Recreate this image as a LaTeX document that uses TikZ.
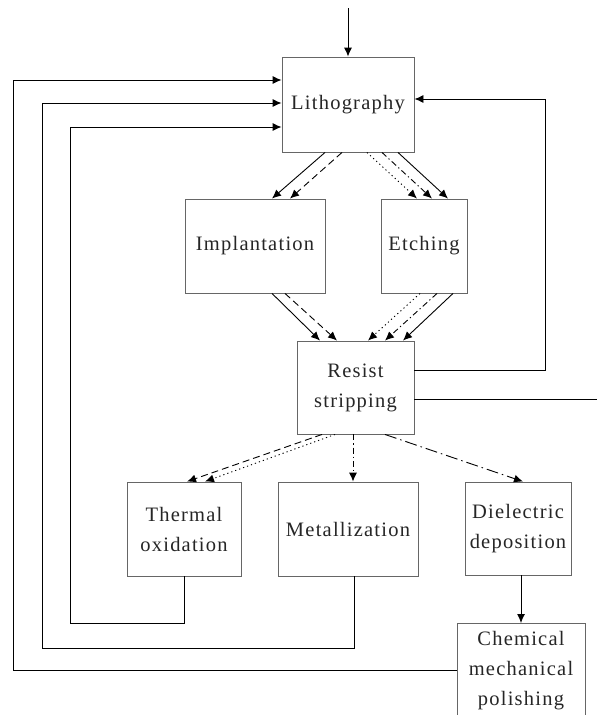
\documentclass[tikz,border=0pt]{standalone}
\usepackage{fontspec}
\setmainfont{Liberation Serif}[LetterSpace=6]
\usepackage{xcolor}
\usepackage{tikz}
\usetikzlibrary{arrows.meta,positioning}

\begin{document}
\begin{tikzpicture}[
  x=1pt, y=-1pt,
  font=\fontsize{20.5}{30}\selectfont,
  procbox/.style={
    draw=black!60, line width=0.9pt,
    align=center, inner sep=0pt, text=black!85
  },
  arr/.style={-{Latex[length=9pt,width=8pt]}, line width=0.9pt},
  dashline/.style={arr, dash pattern=on 7pt off 4pt},
  dotline/.style={arr, dash pattern=on 1.2pt off 3pt},
  dotdash/.style={arr, dash pattern=on 6pt off 3pt on 1.2pt off 3pt},
  longdotdash/.style={arr, dash pattern=on 12pt off 4pt on 1.5pt off 4pt}
]
\useasboundingbox (0,0) rectangle (597,715);

\node[procbox, minimum width=132pt, minimum height=95pt] (litho) at (348,104.5) {Lithography};
\node[procbox, minimum width=140pt, minimum height=94pt] (impl) at (255,246) {Implantation};
\node[procbox, minimum width=86pt, minimum height=94pt] (etch) at (424,246) {Etching};
\node[procbox, minimum width=117pt, minimum height=93pt] (resist) at (355.5,387.5) {Resist\\stripping};
\node[procbox, minimum width=114pt, minimum height=94pt] (therm) at (184,529) {Thermal\\oxidation};
\node[procbox, minimum width=140pt, minimum height=94pt] (metal) at (348,529) {Metallization};
\node[procbox, minimum width=106pt, minimum height=93pt] (diel) at (518,528.5) {Dielectric\\deposition};
\node[procbox, minimum width=128pt, minimum height=94pt, anchor=north] (cmp) at (521,623) {Chemical\\mechanical\\polishing};

\coordinate (start) at (348,8);
\coordinate (exit) at (597,399);

% incoming and outgoing
\draw[arr] (start) -- (litho);
\draw[line width=0.9pt] ([yshift=-11.5pt]resist.east) -- (exit);

% litho to implantation / etching
\draw[arr] ([xshift=-23pt]litho.south) -- ([xshift=17pt]impl.north);
\draw[dashline] ([xshift=-6pt]litho.south) -- ([xshift=35pt]impl.north);
\draw[dotline] ([xshift=19pt]litho.south) -- ([xshift=-7pt]etch.north);
\draw[dotdash] ([xshift=34pt]litho.south) -- ([xshift=8pt]etch.north);
\draw[arr] ([xshift=50pt]litho.south) -- ([xshift=24pt]etch.north);

% into resist stripping
\draw[arr] ([xshift=17pt]impl.south) -- ([xshift=-35.5pt]resist.north);
\draw[dashline] ([xshift=30pt]impl.south) -- ([xshift=-18.5pt]resist.north);
\draw[dotline] ([xshift=-4pt]etch.south) -- ([xshift=12.5pt]resist.north);
\draw[dotdash] ([xshift=13pt]etch.south) -- ([xshift=29.5pt]resist.north);
\draw[arr] ([xshift=29pt]etch.south) -- ([xshift=47.5pt]resist.north);

% out of resist stripping
\draw[dashline] ([xshift=-33.5pt]resist.south) -- ([xshift=3pt]therm.north);
\draw[dotline] ([xshift=-20.5pt]resist.south) -- ([xshift=21pt]therm.north);
\draw[dotdash] ([xshift=-2.5pt]resist.south) -- ([xshift=5pt]metal.north);
\draw[longdotdash] ([xshift=29.5pt]resist.south) -- ([xshift=5pt]diel.north);
\draw[arr] ([xshift=3pt]diel.south) -- (cmp.north);

% loops back to lithography
\draw[arr] ([yshift=17.5pt]resist.east) -- (545,370) |- ([yshift=5.5pt]litho.east);
\draw[arr] (therm.south) |- (70,623) |- ([yshift=-22.5pt]litho.west);
\draw[arr] ([xshift=6pt]metal.south) |- (42,648) |- ([yshift=1.5pt]litho.west);
\draw[arr] ([yshift=-47pt]cmp.north west) -- (13,670) |- ([yshift=24.5pt]litho.west);
\end{tikzpicture}
\end{document}
